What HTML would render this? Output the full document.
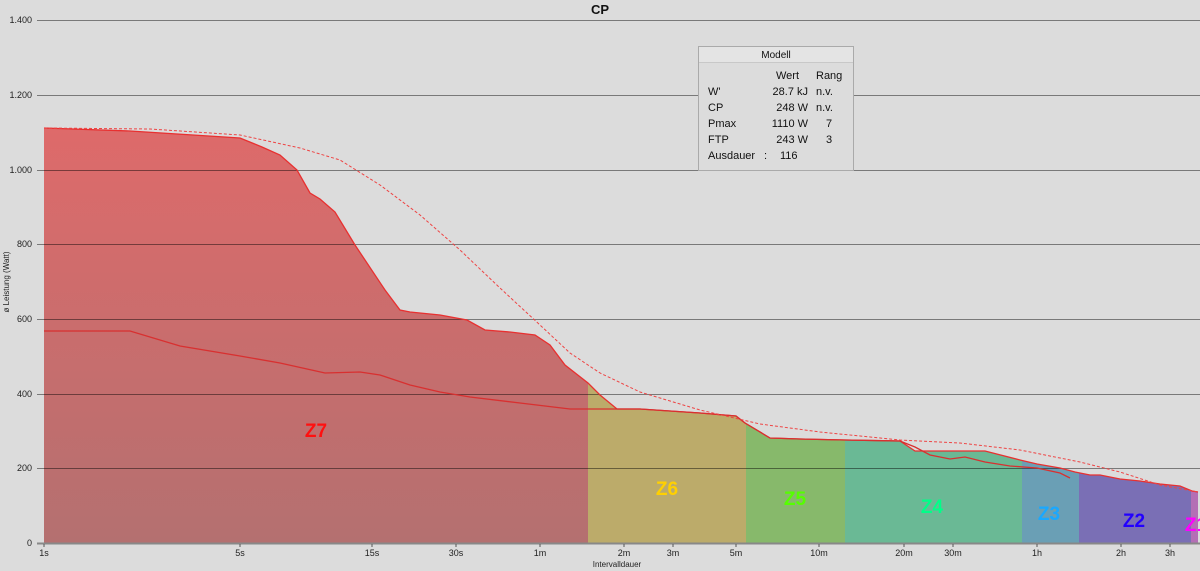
<!DOCTYPE html>
<html><head><meta charset="utf-8"><style>
html,body{margin:0;padding:0;background:#dcdcdc;}
svg{display:block;font-family:"Liberation Sans",sans-serif;}
</style></head><body>
<svg width="1200" height="571" viewBox="0 0 1200 571" xmlns="http://www.w3.org/2000/svg">
<defs>
<linearGradient id="g7" x1="0" y1="0" x2="0" y2="1">
<stop offset="0.2" stop-color="#e06a6a"/><stop offset="1" stop-color="#b47070"/></linearGradient>
<clipPath id="area"><polygon points="44,543 44,128 130,131 240,138 262,147 280,155 297,170 310,193 320,199 335,212 355,245 365,260 385,290 400,310 410,312 440,315 467,320 485,330 510,332 535,335 550,345 565,365 588,383 600,395 617,409 640,409 700,413 736,416 745,423 770,438 800,439 845,440 900,441 915,451 930,451 985,451 1020,460 1037,464 1060,468 1075,472 1090,475 1100,475 1120,479 1140,481 1160,484 1180,486 1192,491 1198,492 1198,543"/></clipPath>
</defs>
<rect width="1200" height="571" fill="#dcdcdc"/>
<g clip-path="url(#area)">
<rect x="44" y="0" width="544" height="543" fill="url(#g7)"/>
<rect x="588" y="0" width="158" height="543" fill="#bcab6a"/>
<rect x="746" y="0" width="99" height="543" fill="#87b96b"/>
<rect x="845" y="0" width="177" height="543" fill="#6ab995"/>
<rect x="1022" y="0" width="57" height="543" fill="#6a9fb5"/>
<rect x="1079" y="0" width="112" height="543" fill="#7a6fb5"/>
<rect x="1191" y="0" width="9" height="543" fill="#b46fb5"/>
</g>
<g stroke="#000" stroke-opacity="0.45" stroke-width="1">
<line x1="37" y1="20.5" x2="1200" y2="20.5"/>
<line x1="37" y1="95.5" x2="1200" y2="95.5"/>
<line x1="37" y1="170.5" x2="1200" y2="170.5"/>
<line x1="37" y1="244.5" x2="1200" y2="244.5"/>
<line x1="37" y1="319.5" x2="1200" y2="319.5"/>
<line x1="37" y1="394.5" x2="1200" y2="394.5"/>
<line x1="37" y1="468.5" x2="1200" y2="468.5"/>
</g>
<line x1="37" y1="543.5" x2="1200" y2="543.5" stroke="#888" stroke-width="2"/>
<polyline fill="none" stroke="#e83030" stroke-width="1.3" points="44,128 130,131 240,138 262,147 280,155 297,170 310,193 320,199 335,212 355,245 365,260 385,290 400,310 410,312 440,315 467,320 485,330 510,332 535,335 550,345 565,365 588,383 600,395 617,409 640,409 700,413 736,416 745,423 770,438 800,439 845,440 900,441 915,451 930,451 985,451 1020,460 1037,464 1060,468 1075,472 1090,475 1100,475 1120,479 1140,481 1160,484 1180,486 1192,491 1198,492"/>
<polyline fill="none" stroke="#d83030" stroke-width="1.3" points="44,331 130,331 180,346 240,356 280,363 325,373 360,372 380,375 410,385 440,392 470,397 520,403 570,409 600,409 640,409 700,413 736,416 745,423 770,438 800,439 845,440 900,441 915,447 930,455 950,459 965,457 985,462 1010,466 1037,468 1060,473 1070,478"/>
<polyline fill="none" stroke="#ee4444" stroke-width="1" stroke-dasharray="3,2" points="44,128 150,129 240,135 300,148 340,160 380,185 420,215 460,250 500,288 540,325 570,353 600,373 640,392 700,410 760,424 820,432 900,440 960,443 1020,450 1080,462 1120,472 1160,485 1198,492"/>
<g font-size="9" fill="#222" text-anchor="end">
<text x="32" y="23">1.400</text><text x="32" y="98">1.200</text><text x="32" y="173">1.000</text>
<text x="32" y="247">800</text><text x="32" y="322">600</text><text x="32" y="397">400</text>
<text x="32" y="471">200</text><text x="32" y="546">0</text>
</g>
<g font-size="9" fill="#222" text-anchor="middle">
<text x="44" y="556">1s</text><text x="240" y="556">5s</text><text x="372" y="556">15s</text><text x="456" y="556">30s</text><text x="540" y="556">1m</text><text x="624" y="556">2m</text><text x="673" y="556">3m</text><text x="736" y="556">5m</text><text x="819" y="556">10m</text><text x="904" y="556">20m</text><text x="953" y="556">30m</text><text x="1037" y="556">1h</text><text x="1121" y="556">2h</text><text x="1170" y="556">3h</text>
<text x="617" y="567" font-size="8">Intervalldauer</text>
</g>
<g stroke="#555"><line x1="44" y1="544" x2="44" y2="547"/><line x1="240" y1="544" x2="240" y2="547"/><line x1="372" y1="544" x2="372" y2="547"/><line x1="456" y1="544" x2="456" y2="547"/><line x1="540" y1="544" x2="540" y2="547"/><line x1="624" y1="544" x2="624" y2="547"/><line x1="673" y1="544" x2="673" y2="547"/><line x1="736" y1="544" x2="736" y2="547"/><line x1="819" y1="544" x2="819" y2="547"/><line x1="904" y1="544" x2="904" y2="547"/><line x1="953" y1="544" x2="953" y2="547"/><line x1="1037" y1="544" x2="1037" y2="547"/><line x1="1121" y1="544" x2="1121" y2="547"/><line x1="1170" y1="544" x2="1170" y2="547"/></g>
<text transform="translate(9,282) rotate(-90)" font-size="8" fill="#222" text-anchor="middle">ø Leistung (Watt)</text>
<text x="600" y="14" font-size="13" font-weight="bold" text-anchor="middle" fill="#111">CP</text>
<g font-size="19" font-weight="bold" text-anchor="middle">
<text x="316" y="437" fill="#ff1010">Z7</text>
<text x="667" y="495" fill="#ffd000">Z6</text>
<text x="795" y="505" fill="#55ff00">Z5</text>
<text x="932" y="513" fill="#00ff88">Z4</text>
<text x="1049" y="520" fill="#1aa8ff">Z3</text>
<text x="1134" y="527" fill="#2200ff">Z2</text>
<text x="1196" y="531" fill="#ff00ff">Z1</text>
</g>
<rect x="698.5" y="46.5" width="155" height="124" fill="#dcdcdc" stroke="#aaa"/>
<rect x="699" y="47" width="154" height="15" fill="#e4e4e4"/>
<line x1="699" y1="62.5" x2="853" y2="62.5" stroke="#c8c8c8"/>
<g font-size="11" fill="#111">
<text x="776" y="58" text-anchor="middle" font-size="10">Modell</text>
<text x="776" y="79">Wert</text><text x="816" y="79">Rang</text>
<text x="708" y="95">W'</text><text x="808" y="95" text-anchor="end">28.7 kJ</text><text x="816" y="95">n.v.</text>
<text x="708" y="111">CP</text><text x="808" y="111" text-anchor="end">248 W</text><text x="816" y="111">n.v.</text>
<text x="708" y="127">Pmax</text><text x="808" y="127" text-anchor="end">1110 W</text><text x="826" y="127">7</text>
<text x="708" y="143">FTP</text><text x="808" y="143" text-anchor="end">243 W</text><text x="826" y="143">3</text>
<text x="708" y="159">Ausdauer</text><text x="764" y="159">:</text><text x="780" y="159">116</text>
</g>
</svg>
</body></html>
